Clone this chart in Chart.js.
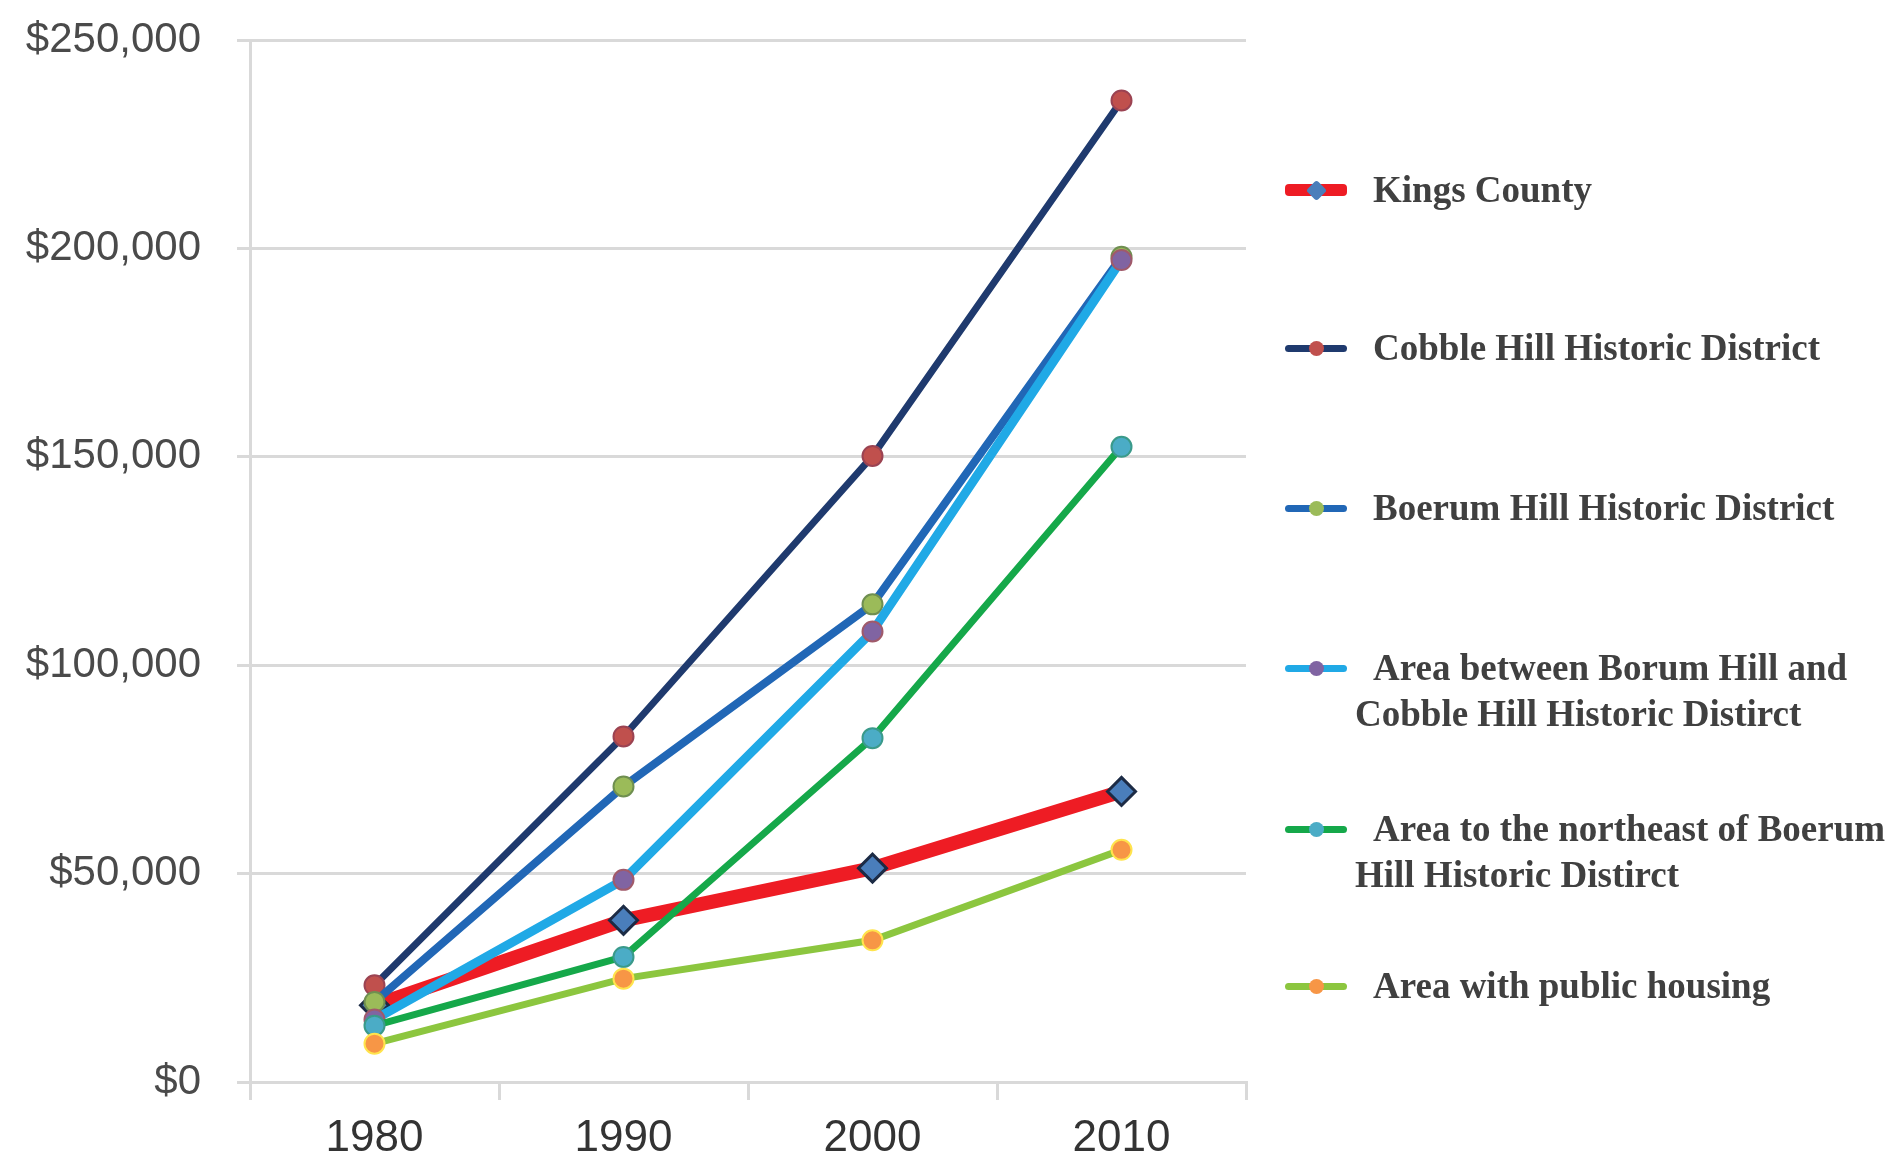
<!DOCTYPE html>
<html>
<head>
<meta charset="utf-8">
<title>Median household income</title>
<script src="https://cdn.jsdelivr.net/npm/chart.js@4.4.1/dist/chart.umd.min.js"></script>
<style>
  html, body { margin: 0; padding: 0; background: #fff; }
  #wrap { position: relative; width: 1897px; height: 1158px; overflow: hidden; }
  #legend { position: absolute; left: 0; top: 0; width: 1897px; height: 1158px; pointer-events: none; }
  .item { position: absolute; left: 1285px; display: flex; align-items: flex-start; }
  .swatch { position: relative; width: 62px; height: 46px; flex: none; }
  .swatch .bar { position: absolute; left: 0; right: 0; top: 50%; border-radius: 4px; }
  .swatch .dot { position: absolute; left: 50%; top: 50%; border-radius: 50%; }
  .label {
    font-family: "Liberation Serif", "Times New Roman", serif;
    font-weight: bold; font-size: 37px; line-height: 46px; color: #404040;
    white-space: pre-line; margin-left: 8px; text-indent: 18px;
  }
</style>
</head>
<body>
<div id="wrap">
  <canvas id="chart" width="1897" height="1158"></canvas>
  <div id="legend"></div>
</div>
<script>
// data
const years = ['1980', '1990', '2000', '2010'];
const kingsCounty   = [18400, 38800, 51300, 69700];
const cobbleHill    = [23200, 82900, 150200, 235500];
const boerumHill    = [19200, 70900, 114600, 198000];
const areaBetween   = [15000, 48500, 108100, 197200];
const areaNortheast = [13500, 30000, 82500, 152400];
const publicHousing = [9200, 24800, 34000, 55700];
const seriesNames = [
  'Kings County',
  'Cobble Hill Historic District',
  'Boerum Hill Historic District',
  'Area between Borum Hill and\nCobble Hill Historic Distirct',
  'Area to the northeast of Boerum\nHill Historic Distirct',
  'Area with public housing'
];
const yMax = 250000;
const yStep = 50000;

// legend row positions (top of first line)
const legendTops = [167, 325, 485, 645, 806, 963];

const seriesValues = [kingsCounty, cobbleHill, boerumHill, areaBetween, areaNortheast, publicHousing];
const lineColors  = ['#ee1c24', '#1f3a6e', '#2167b6', '#20a9e6', '#15a84a', '#8cc63f'];
const lineWidths  = [14, 7, 8, 9, 7, 7];
const markerFill  = ['#4a7ebb', '#c0504d', '#9bbb59', '#8064a2', '#4bacc6', '#f79646'];
const markerEdge  = ['#1c2b45', '#9b4352', '#6f8f50', '#a05a6a', '#3a9a8a', '#ffe44d'];

const datasets = seriesValues.map(function (vals, i) {
  return {
    label: seriesNames[i],
    data: vals,
    // later series sit on top, like the original
    order: seriesValues.length - i,
    borderColor: lineColors[i],
    backgroundColor: lineColors[i],
    borderWidth: lineWidths[i],
    tension: 0,
    fill: false,
    pointStyle: i === 0 ? 'rectRot' : 'circle',
    pointRadius: i === 0 ? 14 : 10,
    pointBorderWidth: i === 0 ? 3 : 2,
    pointBackgroundColor: markerFill[i],
    pointBorderColor: markerEdge[i]
  };
});

const gridGray = '#d9d9d9';

const chart = new Chart(document.getElementById('chart'), {
  type: 'line',
  data: { labels: years, datasets: datasets },
  options: {
    responsive: false,
    animation: false,
    devicePixelRatio: 1,
    layout: { padding: { left: 0, right: 651, top: 40, bottom: 0 } },
    plugins: { legend: { display: false }, tooltip: { enabled: false } },
    scales: {
      x: {
        offset: true,
        grid: { offset: true, drawOnChartArea: false, drawTicks: true, tickLength: 18, color: gridGray, lineWidth: 3 },
        border: { display: true, color: gridGray, width: 3 },
        ticks: {
          color: '#333333',
          padding: 12,
          font: { family: '"Liberation Sans Narrow", "Liberation Sans", Arial, sans-serif', size: 44 }
        },
        afterFit: function (scale) { scale.height = 76; }
      },
      y: {
        min: 0,
        max: yMax,
        grid: { color: gridGray, lineWidth: 3, tickLength: 13, drawTicks: true },
        border: { display: true, color: gridGray, width: 3 },
        ticks: {
          stepSize: yStep,
          color: '#4a4a4a',
          padding: 36,
          font: { family: '"Liberation Sans", Arial, sans-serif', size: 42 },
          callback: function (v) { return '$' + Number(v).toLocaleString('en-US'); }
        },
        afterFit: function (scale) {
          scale.width = 250;
          scale.paddingTop = 0;
          scale.paddingBottom = 0;
        }
      }
    }
  }
});

// html legend built from the chart datasets
const legend = document.getElementById('legend');
chart.data.datasets.forEach(function (ds, i) {
  const item = document.createElement('div');
  item.className = 'item';
  item.style.top = legendTops[i] + 'px';
  const sw = document.createElement('div');
  sw.className = 'swatch';
  const bar = document.createElement('div');
  bar.className = 'bar';
  const h = i === 0 ? 12 : 7;
  bar.style.height = h + 'px';
  bar.style.marginTop = (-h / 2) + 'px';
  bar.style.background = ds.borderColor;
  const dot = document.createElement('div');
  dot.className = 'dot';
  const d = 15;
  dot.style.width = d + 'px';
  dot.style.height = d + 'px';
  dot.style.marginLeft = (-d / 2) + 'px';
  dot.style.marginTop = (-d / 2) + 'px';
  dot.style.background = ds.pointBackgroundColor;
  if (i === 0) { dot.style.borderRadius = '3px'; dot.style.transform = 'rotate(45deg)'; }
  sw.appendChild(bar);
  sw.appendChild(dot);
  const lab = document.createElement('div');
  lab.className = 'label';
  lab.textContent = ds.label;
  item.appendChild(sw);
  item.appendChild(lab);
  legend.appendChild(item);
});
</script>
</body>
</html>
